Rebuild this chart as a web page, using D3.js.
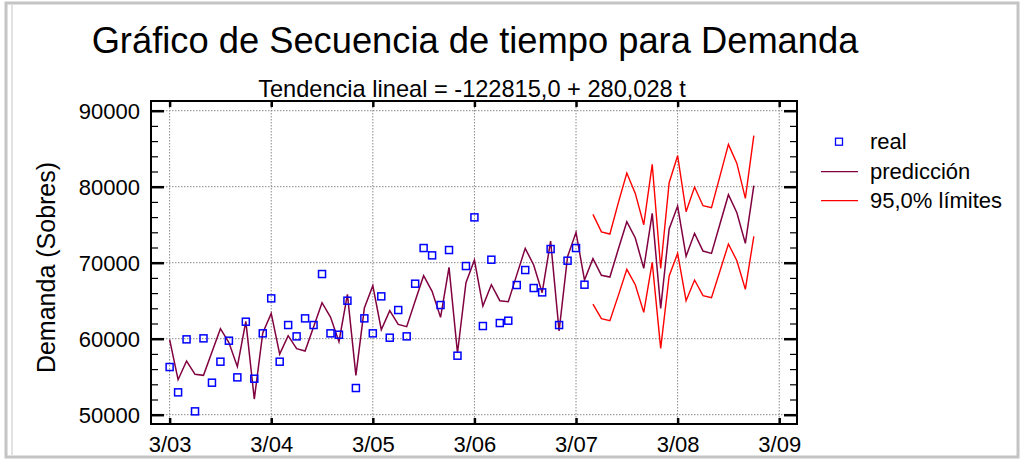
<!DOCTYPE html>
<html>
<head>
<meta charset="utf-8">
<script src="https://cdn.jsdelivr.net/npm/d3@7"></script>
<style>
  html, body { margin: 0; padding: 0; background: #fff; }
  svg text { font-family: "Liberation Sans", Arial, sans-serif; fill: #000; }
</style>
</head>
<body>
<svg id="chart" width="1021" height="461"></svg>
<script>
// Observed monthly demand, starting at 3/03
const real = [56272, 52939, 59912, 50439, 60044, 54211, 56974, 59737, 54912, 62237,
  54737, 60702, 65307, 56974, 61798, 60307, 62675, 61798, 68509, 60702,
  60526, 65000, 53509, 62675, 60702, 65570, 60132, 63772, 60307, 67237,
  71930, 70965, 64430, 71667, 57763, 69561, 75965, 61667, 70395, 62061,
  62368, 67061, 69035, 66667, 66096, 71798, 61798, 70263, 71930, 67105];

// Model predictions (fitted + 20 months ahead)
const prediccion = [59868, 54605, 57061, 55307, 55175, 58250, 61316, 59500, 56316, 62281,
  52061, 60746, 63333, 57982, 60395, 58684, 58377, 61535, 64737, 62851,
  59605, 65833, 55175, 64035, 66974, 61184, 63684, 61886, 61579, 64956,
  68289, 66228, 62807, 69386, 58114, 67368, 70351, 64298, 67105, 65000,
  64868, 68400, 71886, 69693, 66053, 72851, 61009, 70789, 73991, 67719,
  70530, 68350, 68114, 71800, 75395, 73246, 69254, 76491, 63991, 74430,
  77456, 70850, 73860, 71535, 71228, 75100, 78947, 76579, 72544, 80132];

// 95% forecast limits, months 50..69
const limiteSuperior = [76360, 74050, 73772, 77900, 81798, 79123, 75000, 82939, 69254, 80526,
  84079, 76711, 79950, 77500, 77237, 81400, 85570, 83070, 78465, 86711];
const limiteInferior = [64540, 62632, 62368, 65700, 69123, 67105, 63465, 70044, 58728, 68246,
  71228, 65000, 67719, 65658, 65395, 68900, 72456, 70263, 66491, 73465];
const inicioPronostico = 50;

const xTickLabels = ["3/03", "3/04", "3/05", "3/06", "3/07", "3/08", "3/09"];
const yTicks = [50000, 60000, 70000, 80000, 90000];

const svg = d3.select("#chart");
const plot = { left: 151, top: 101, right: 797, bottom: 424 };

const x = d3.scaleLinear().domain([-2.2, 74.1]).range([plot.left, plot.right]);
const y = d3.scaleLinear().domain([48776, 91276]).range([plot.bottom, plot.top]);

// Outer panel border
svg.append("rect").attr("x", 6).attr("y", 3).attr("width", 1012).attr("height", 454)
  .attr("fill", "none").attr("stroke", "#c4c4c4").attr("stroke-width", 3);
svg.append("line").attr("x1", 12).attr("x2", 12).attr("y1", 5).attr("y2", 455)
  .attr("stroke", "#d8d8d8").attr("stroke-width", 1.5);

// Titles
svg.append("text").attr("x", 475).attr("y", 53).attr("text-anchor", "middle")
  .style("font-size", "36.3px").text("Gráfico de Secuencia de tiempo para Demanda");
svg.append("text").attr("x", 472).attr("y", 97).attr("text-anchor", "middle")
  .style("font-size", "23.6px").text("Tendencia lineal = -122815,0 + 280,028 t");

// Y axis title
svg.append("text")
  .attr("transform", `translate(55,${(plot.top + plot.bottom) / 2 + 5}) rotate(-90)`)
  .attr("text-anchor", "middle").style("font-size", "25px").text("Demanda (Sobres)");

const xTickVals = xTickLabels.map((d, i) => i * 12);

// Grid
const grid = svg.append("g").attr("stroke", "#8a8a8a").attr("stroke-width", 1)
  .attr("stroke-dasharray", "1.5,1.5");
grid.selectAll("line.v").data(xTickVals).join("line").attr("class", "v")
  .attr("x1", d => x(d)).attr("x2", d => x(d))
  .attr("y1", plot.top).attr("y2", plot.bottom);
grid.selectAll("line.h").data(yTicks).join("line").attr("class", "h")
  .attr("x1", plot.left).attr("x2", plot.right)
  .attr("y1", d => y(d)).attr("y2", d => y(d));

// Axes with inward ticks
const minorTicks = d3.range(48000, 92001, 2000).filter(v => v >= y.domain()[0] && v <= y.domain()[1] && v % 10000 !== 0);

function yAxisSide(gen, xpos, major) {
  const g = svg.append("g").attr("transform", `translate(${xpos},0)`);
  g.call(gen.tickValues(major ? yTicks : minorTicks)
    .tickSize(major ? 13 : 7).tickFormat(major && gen === leftMajor ? d => d : ""));
  g.select(".domain").remove();
  g.selectAll(".tick line").attr("stroke", "#000").attr("stroke-width", major ? 2.5 : 1.2);
  return g;
}
const leftMajor = d3.axisRight(y);
const gl = yAxisSide(leftMajor, plot.left, true);
gl.selectAll(".tick text").attr("x", -11).attr("text-anchor", "end")
  .style("font-size", "22px").attr("dy", "0.36em");
yAxisSide(d3.axisRight(y), plot.left, false);
yAxisSide(d3.axisLeft(y), plot.right, true);
yAxisSide(d3.axisLeft(y), plot.right, false);

const gx = svg.append("g").attr("transform", `translate(0,${plot.bottom})`)
  .call(d3.axisTop(x).tickValues(xTickVals).tickSize(6).tickFormat(""));
gx.select(".domain").remove();
gx.selectAll(".tick line").attr("stroke", "#000").attr("stroke-width", 2.5);
gx.selectAll(".tick").append("text").attr("y", 28).attr("text-anchor", "middle")
  .style("font-size", "22px").text((d, i) => xTickLabels[i]);

const gxt = svg.append("g").attr("transform", `translate(0,${plot.top})`)
  .call(d3.axisBottom(x).tickValues(xTickVals).tickSize(6).tickFormat(""));
gxt.select(".domain").remove();
gxt.selectAll(".tick line").attr("stroke", "#000").attr("stroke-width", 2.5);

// Plot frame
svg.append("rect").attr("x", plot.left).attr("y", plot.top)
  .attr("width", plot.right - plot.left).attr("height", plot.bottom - plot.top)
  .attr("fill", "none").attr("stroke", "#000").attr("stroke-width", 2);

// Lines
const line = d3.line().x(d => x(d[0])).y(d => y(d[1]));
const predPts = prediccion.map((v, i) => [i, v]);
const upPts = limiteSuperior.map((v, i) => [i + inicioPronostico, v]);
const loPts = limiteInferior.map((v, i) => [i + inicioPronostico, v]);

svg.append("path").datum(upPts).attr("d", line).attr("fill", "none")
  .attr("stroke", "#ff0000").attr("stroke-width", 1.4);
svg.append("path").datum(loPts).attr("d", line).attr("fill", "none")
  .attr("stroke", "#ff0000").attr("stroke-width", 1.4);
svg.append("path").datum(predPts).attr("d", line).attr("fill", "none")
  .attr("stroke", "#800040").attr("stroke-width", 1.5);

// Observed points
const sq = 7;
svg.append("g").selectAll("rect").data(real).join("rect")
  .attr("x", (d, i) => x(i) - sq / 2).attr("y", d => y(d) - sq / 2)
  .attr("width", sq).attr("height", sq)
  .attr("fill", "none").attr("stroke", "#0000ff").attr("stroke-width", 1.5);

// Legend
const leg = svg.append("g");
leg.append("rect").attr("x", 839 - 3.5).attr("y", 141.7 - 3.5).attr("width", 7).attr("height", 7)
  .attr("fill", "none").attr("stroke", "#0000ff").attr("stroke-width", 1.3);
leg.append("text").attr("x", 870).attr("y", 148.5).style("font-size", "22px").text("real");
leg.append("line").attr("x1", 821).attr("x2", 858).attr("y1", 171.7).attr("y2", 171.7)
  .attr("stroke", "#800040").attr("stroke-width", 1.3);
leg.append("text").attr("x", 870).attr("y", 178.5).style("font-size", "22px").text("predicción");
leg.append("line").attr("x1", 821).attr("x2", 858).attr("y1", 200.7).attr("y2", 200.7)
  .attr("stroke", "#ff0000").attr("stroke-width", 1.3);
leg.append("text").attr("x", 870).attr("y", 208).style("font-size", "22px").text("95,0% límites");
</script>
</body>
</html>
